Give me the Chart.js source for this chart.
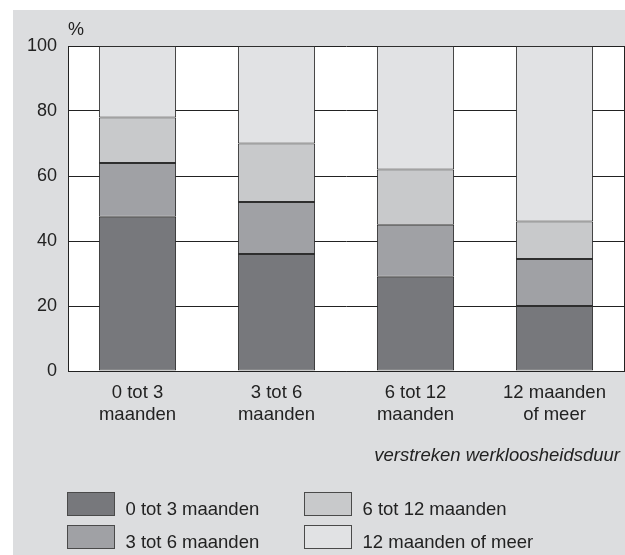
<!DOCTYPE html>
<html>
<head>
<meta charset="utf-8">
<script src="https://cdn.jsdelivr.net/npm/chart.js@4/dist/chart.umd.min.js"></script>
<style>
  html, body { margin: 0; padding: 0; background: #fff; }
  canvas { display: block; }
</style>
</head>
<body>
<canvas id="durChart" width="625" height="555"></canvas>
<script>
// categories on the x axis (two lines each)
const categories = [
  ["0 tot 3", "maanden"],
  ["3 tot 6", "maanden"],
  ["6 tot 12", "maanden"],
  ["12 maanden", "of meer"],
];

// share (%) per group
const seriesLabels = ["0 tot 3 maanden", "3 tot 6 maanden", "6 tot 12 maanden", "12 maanden of meer"];
const s0to3 = [47.5, 36, 29, 20];
const s3to6 = [16.5, 16, 16, 14.5];
const s6to12 = [14, 18, 17, 11.5];
const s12plus = [22, 30, 38, 54];

const yTicks = [0, 20, 40, 60, 80, 100];
const unitLabel = "%";
const xTitle = "verstreken werkloosheidsduur";

const fills = ["#77787c", "#a0a1a5", "#c8c9cb", "#e1e2e4"];
const ink = "#222";
const fontFam = "'Liberation Sans', Arial, sans-serif";

Chart.defaults.font.family = fontFam;
Chart.defaults.font.size = 18;
Chart.defaults.color = ink;

// gray panel behind everything, white plot area, % label, axis title and legend
const decorPlugin = {
  id: "decor",
  beforeDraw(chart) {
    const c = chart.ctx;
    const a = chart.chartArea;
    c.save();
    c.fillStyle = "#fff";
    c.fillRect(0, 0, chart.width, chart.height);
    c.fillStyle = "#dcdddf";
    c.fillRect(13, 10, chart.width - 13, chart.height - 10);
    c.fillStyle = "#fff";
    c.fillRect(a.left, a.top, a.right - a.left, a.bottom - a.top);
    c.restore();
  },
  afterDraw(chart) {
    const c = chart.ctx;
    const a = chart.chartArea;
    c.save();
    c.fillStyle = ink;
    c.font = "18px " + fontFam;
    c.textAlign = "left";
    c.textBaseline = "middle";
    c.fillText(unitLabel, a.left, 30);

    // x axis title, right aligned under the plot
    c.font = "italic 18.5px " + fontFam;
    c.textAlign = "right";
    c.fillText(xTitle, a.right - 4, 456);

    // legend, two columns, column by column
    c.font = "18.5px " + fontFam;
    c.textAlign = "left";
    const colX = [67.5, 304.5];
    const rowY = [492.5, 525.5];
    chart.data.datasets.forEach((ds, i) => {
      const x = colX[Math.floor(i / 2)];
      const y = rowY[i % 2];
      c.fillStyle = ds.backgroundColor;
      c.fillRect(x, y, 47, 23);
      c.strokeStyle = "#4a4a4a";
      c.lineWidth = 1;
      c.strokeRect(x, y, 47, 23);
      c.fillStyle = ink;
      c.textBaseline = "alphabetic";
      c.fillText(ds.label, x + 58, y + 22.5);
    });
    c.restore();
  },
};

const seriesData = [s0to3, s3to6, s6to12, s12plus];

new Chart(document.getElementById("durChart"), {
  type: "bar",
  data: {
    labels: categories,
    datasets: seriesData.map((vals, i) => ({
      label: seriesLabels[i],
      data: vals,
      backgroundColor: fills[i],
      borderColor: "#2e2e2e",
      borderWidth: 1,
      borderSkipped: false,
      barPercentage: 0.555,
      categoryPercentage: 1,
    })),
  },
  options: {
    responsive: false,
    animation: false,
    layout: { padding: { left: 0, top: 46, right: 1, bottom: 0 } },
    plugins: {
      legend: { display: false },
      tooltip: { enabled: false },
    },
    scales: {
      x: {
        stacked: true,
        afterFit: (s) => { s.height = 184; },
        grid: {
          drawTicks: false,
          color: (ctx) => (ctx.type === "scale" ? ink : "rgba(0,0,0,0)"),
        },
        border: { color: ink },
        ticks: { padding: 10.5, color: ink, font: { size: 18.5 } },
      },
      y: {
        stacked: true,
        min: 0,
        max: 100,
        afterFit: (s) => { s.width = 68; },
        afterBuildTicks: (s) => { s.ticks = yTicks.map((v) => ({ value: v })); },
        grid: { drawTicks: false, color: ink },
        border: { color: ink },
        ticks: { padding: 11, color: ink, font: { size: 18 } },
      },
    },
  },
  plugins: [decorPlugin],
});
</script>
</body>
</html>
